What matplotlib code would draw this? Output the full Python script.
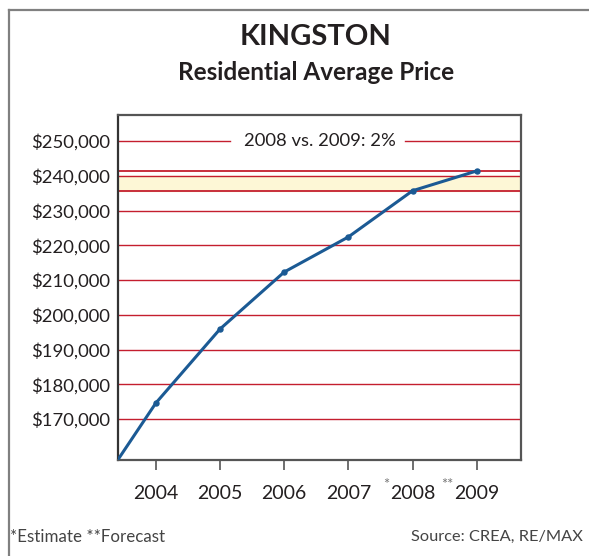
# Kingston residential average price line chart

import matplotlib
matplotlib.use("Agg")
import matplotlib.pyplot as plt
from matplotlib.lines import Line2D

years = [2003, 2004, 2005, 2006, 2007, 2008, 2009]
prices = [147000, 174600, 195900, 212300, 222400, 235700, 241400]
year_labels = ["2004", "2005", "2006", "2007", "2008", "2009"]
label_marks = ["", "", "", "", "*", "**"]
y_ticks = [170000, 180000, 190000, 200000, 210000, 220000, 230000, 240000, 250000]

plt.rcParams['font.family'] = ['Lato', 'DejaVu Sans']

blue = "#1b5a94"
red = "#c41e2e"
dark = "#231f20"

fig = plt.figure(figsize=(5.89, 5.56), dpi=100)

# outer frame (left and top only)
fig.add_artist(Line2D([9/589, 9/589], [0, 1 - 10/556], color="#808080", lw=1.6, transform=fig.transFigure))
fig.add_artist(Line2D([9/589, 1], [1 - 10/556, 1 - 10/556], color="#808080", lw=1.6, transform=fig.transFigure))

fig.text(316/589, 1 - 37/556, "KINGSTON", ha="center", va="center", fontsize=21, fontweight="bold", color=dark)
fig.text(316/589, 1 - 73/556, "Residential Average Price", ha="center", va="center", fontsize=17.5, fontweight="bold", color=dark)

ax = fig.add_axes([118/589, 96/556, 403/589, 345/556])
ax.set_xlim(2003.41, 2009.69)
ax.set_ylim(158200, 257500)

# highlight band between 2008 estimate and 2009 forecast
ax.axhspan(prices[-2], 240000, color="#fdf7d6", zorder=0)
for v in y_ticks:
    if v == 250000:
        continue
    ax.axhline(v, color=red, lw=1.0, zorder=1)
ax.axhline(prices[-2], color=red, lw=1.3, zorder=1)
ax.axhline(prices[-1], color=red, lw=1.3, zorder=1)

# top line broken by the label
ax.plot([2003.41, 2005.16], [250000, 250000], color=red, lw=1.0, zorder=1)
ax.plot([2007.89, 2009.69], [250000, 250000], color=red, lw=1.0, zorder=1)
ax.text(2006.55, 250000, "2008 vs. 2009: 2%", ha="center", va="center", fontsize=13.3, color=dark)

ax.plot(years, prices, color=blue, lw=2.2, zorder=3, clip_on=True)
ax.plot(years[1:], prices[1:], "o", color=blue, ms=3.6, zorder=4)

ax.set_yticks(y_ticks)
ax.set_yticklabels(["${:,}".format(v) for v in y_ticks], fontsize=13.3, color=dark)
ax.tick_params(axis="y", length=0, pad=6)

ax.set_xticks(years[1:])
ax.set_xticklabels(year_labels, fontsize=14, color=dark)
ax.tick_params(axis="x", length=7, width=1.2, color="#555555", pad=11, direction="out")

for i, m in enumerate(label_marks):
    if m:
        ax.annotate(m, xy=(years[i + 1], 0), xycoords=("data", "axes fraction"),
                    xytext=(-16.5, -18), textcoords="offset points",
                    ha="right", va="center", fontsize=10.5, color="#777777")

for s in ax.spines.values():
    s.set_color("#555555")
    s.set_linewidth(1.6)
ax.spines["left"].set_color("#333333")

fig.text(10/589, 1 - 537/556, "*Estimate **Forecast", ha="left", va="center", fontsize=12.2, color="#444444")
fig.text(583/589, 1 - 537/556, "Source: CREA, RE/MAX", ha="right", va="center", fontsize=11.8, color="#444444")

fig.savefig("out.png", dpi=100)
